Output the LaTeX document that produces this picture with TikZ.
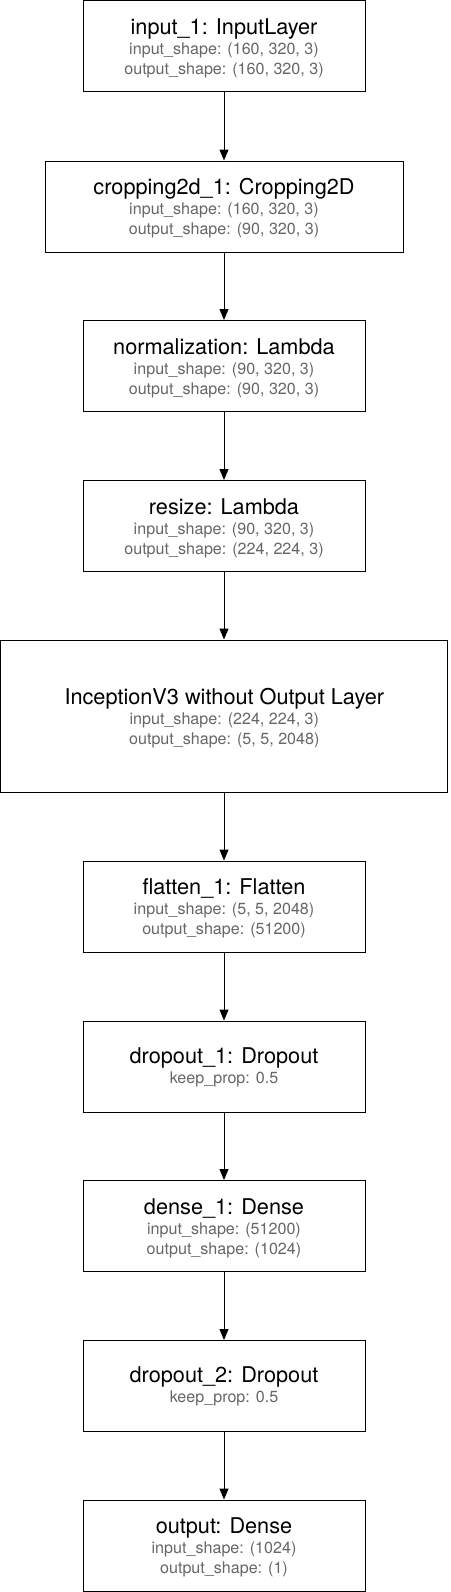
\documentclass[tikz,border=0pt]{standalone}
\usepackage{fontspec}
\setmainfont{TeX Gyre Heros}
\usetikzlibrary{arrows.meta}
\definecolor{shapegray}{gray}{0.4}
\newcommand{\lname}[1]{{\fontsize{21.7}{20}\selectfont\rule{0pt}{20pt}#1}}
\newcommand{\lshape}[2][3pt]{{\color{shapegray}#2\rule[-#1]{0pt}{#1}}}
\tikzset{
 layer/.style={draw, line width=1pt, inner sep=0pt, minimum width=282pt, minimum height=91pt, align=center,
  font={\fontsize{16.1}{20}\selectfont}},
 flow/.style={-{Triangle[length=11pt,width=9pt]}, line width=1pt}
}
\begin{document}
\begin{tikzpicture}[x=1pt, y=-1pt]
 \useasboundingbox (0,0) rectangle (450,1592);
 \node[layer] (input) at (224,46.5) {\lname{input\_1: InputLayer}\\ \lshape{input\_shape: (160, 320, 3)}\\ \lshape{output\_shape: (160, 320, 3)}};
 \node[layer, minimum width=358pt] (crop) at (224,206.5) {\lname{cropping2d\_1: Cropping2D}\\ \lshape{input\_shape: (160, 320, 3)}\\ \lshape{output\_shape: (90, 320, 3)}};
 \node[layer] (norm) at (224,366) {\lname{normalization: Lambda}\\ \lshape{input\_shape: (90, 320, 3)}\\ \lshape{output\_shape: (90, 320, 3)}};
 \node[layer] (resize) at (224,526) {\lname{resize: Lambda}\\ \lshape{input\_shape: (90, 320, 3)}\\ \lshape{output\_shape: (224, 224, 3)}};
 \node[layer, minimum width=447pt, minimum height=152pt] (incep) at (224.3,716) {\lname{InceptionV3 without Output Layer}\\ \lshape{input\_shape: (224, 224, 3)}\\ \lshape{output\_shape: (5, 5, 2048)}};
 \node[layer] (flat) at (224,906.5) {\lname{flatten\_1: Flatten}\\ \lshape{input\_shape: (5, 5, 2048)}\\ \lshape{output\_shape: (51200)}};
 \node[layer] (drop1) at (224,1066.5) {\lname{dropout\_1: Dropout}\\ \lshape[6.4pt]{keep\_prop: 0.5}};
 \node[layer] (dense) at (224,1226) {\lname{dense\_1: Dense}\\ \lshape{input\_shape: (51200)}\\ \lshape{output\_shape: (1024)}};
 \node[layer] (drop2) at (224,1386) {\lname{dropout\_2: Dropout}\\ \lshape[6.4pt]{keep\_prop: 0.5}};
 \node[layer] (out) at (224,1545.5) {\lname{output: Dense}\\ \lshape{input\_shape: (1024)}\\ \lshape{output\_shape: (1)}};
 \foreach \a/\b in {input/crop, crop/norm, norm/resize, flat/drop1, drop1/dense, dense/drop2, drop2/out}
  \draw[flow] (\a) -- (\b);
 \draw[flow] (resize.south) -- (resize.south |- incep.north);
 \draw[flow] (incep.south -| resize.south) -- (flat.north);
\end{tikzpicture}
\end{document}
